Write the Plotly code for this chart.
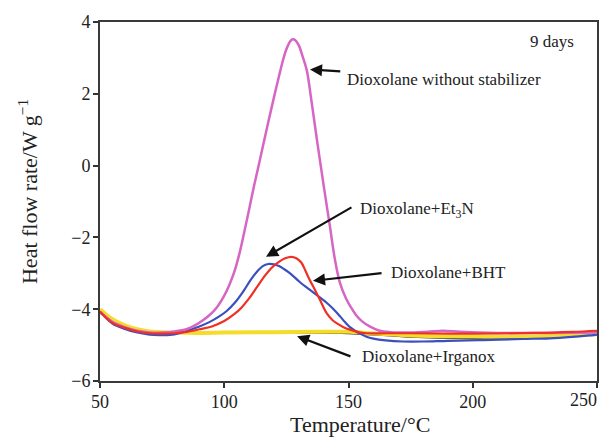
import plotly.graph_objects as go

# Dioxolane without stabilizer (magenta)
x_plain = [50, 55, 60, 65, 70, 75, 80, 85, 88, 91, 94, 97, 100, 102, 104, 106, 108, 110, 112, 114, 116, 118, 120, 122, 123.5, 125, 126.5, 127.5, 128.5, 130, 131.5, 133.2, 135, 137.5, 140, 142.5, 144.5, 146.5, 149, 151, 153, 155.5, 158.5, 162.5, 167, 175, 182, 188, 195, 210, 230, 250]
y_plain = [-4.07, -4.35, -4.5, -4.6, -4.65, -4.65, -4.62, -4.55, -4.46, -4.33, -4.17, -3.95, -3.62, -3.33, -2.97, -2.48, -1.87, -1.22, -0.56, 0.05, 0.68, 1.3, 1.9, 2.48, 2.9, 3.24, 3.46, 3.52, 3.5, 3.35, 3.05, 2.66, 1.85, 0.62, -0.55, -1.68, -2.6, -3.25, -3.7, -3.95, -4.16, -4.34, -4.48, -4.6, -4.64, -4.65, -4.63, -4.6, -4.63, -4.66, -4.66, -4.65]

# Dioxolane + Et3N (blue)
x_et3n = [50, 55, 60, 65, 70, 75, 80, 85, 90, 94, 98, 101, 104.5, 107.7, 110.5, 113, 115.5, 117.7, 120, 122, 124, 126.5, 130.5, 135.8, 141.2, 144, 146.6, 148.6, 150.6, 152.6, 154.6, 157, 160, 165, 172, 180, 190, 204, 220, 231, 240, 248.4, 250]
y_et3n = [-4.07, -4.4, -4.55, -4.65, -4.71, -4.72, -4.7, -4.6, -4.48, -4.36, -4.2, -4.05, -3.8, -3.5, -3.2, -2.97, -2.8, -2.74, -2.75, -2.8, -2.88, -3.0, -3.25, -3.53, -3.82, -4.0, -4.2, -4.36, -4.5, -4.6, -4.68, -4.76, -4.82, -4.87, -4.9, -4.9, -4.88, -4.86, -4.83, -4.81, -4.77, -4.72, -4.71]

# Dioxolane + BHT (red)
x_bht = [50, 55, 60, 65, 70, 75, 80, 85, 90, 95, 100, 104, 107, 110, 113, 116, 119, 122, 124.5, 127, 129, 131, 132.5, 134, 135.8, 138.5, 141.2, 143.5, 145.2, 148, 150.6, 154, 157.3, 165, 175, 200, 225, 240, 250]
y_bht = [-4.07, -4.38, -4.52, -4.62, -4.67, -4.68, -4.67, -4.63, -4.56, -4.48, -4.33, -4.14, -3.95, -3.7, -3.4, -3.1, -2.85, -2.68, -2.58, -2.54, -2.58, -2.7, -2.9, -3.13, -3.37, -3.74, -4.11, -4.3, -4.39, -4.5, -4.57, -4.64, -4.67, -4.67, -4.67, -4.68, -4.66, -4.63, -4.6]

# Dioxolane + Irganox (yellow)
x_irg = [50, 55, 60, 65, 70, 80, 90, 100, 120, 140, 150, 160, 175, 200, 225, 240, 250]
y_irg = [-4.0, -4.28, -4.45, -4.56, -4.62, -4.65, -4.66, -4.65, -4.64, -4.63, -4.63, -4.68, -4.73, -4.76, -4.76, -4.73, -4.7]

# Unlabelled baseline (black)
x_base = [50, 55, 59.4, 65, 72.8, 80, 86.2, 95, 120, 150, 175, 200, 225, 240, 250]
y_base = [-4.08, -4.35, -4.49, -4.6, -4.67, -4.66, -4.64, -4.65, -4.65, -4.66, -4.76, -4.8, -4.79, -4.75, -4.7]

x_ticks = [50, 100, 150, 200, 250]
y_ticks = [-6, -4, -2, 0, 2, 4]

FONT = "Liberation Serif"
TXT = "#222222"

fig = go.Figure()
fig.add_trace(go.Scatter(x=x_base, y=y_base, mode="lines", line=dict(color="#111111", width=2.5, shape="spline")))
fig.add_trace(go.Scatter(x=x_irg, y=y_irg, mode="lines", line=dict(color="#f4dc2c", width=4, shape="spline")))
fig.add_trace(go.Scatter(x=x_et3n, y=y_et3n, mode="lines", line=dict(color="#3b4fbf", width=2.2, shape="spline")))
fig.add_trace(go.Scatter(x=x_plain, y=y_plain, mode="lines", line=dict(color="#d765c4", width=2.5, shape="spline")))
fig.add_trace(go.Scatter(x=x_bht, y=y_bht, mode="lines", line=dict(color="#ee3124", width=2.2, shape="spline")))

arrows = [
    # (head_x, head_y, tail_x, tail_y)
    (134.5, 2.68, 147.3, 2.62),
    (116.8, -2.54, 151.8, -1.14),
    (135.7, -3.21, 163.9, -2.99),
    (129.3, -4.75, 151.4, -5.33),
]
for hx, hy, tx, ty in arrows:
    fig.add_annotation(x=hx, y=hy, ax=tx, ay=ty, xref="x", yref="y", axref="x", ayref="y",
                       text="", showarrow=True, arrowhead=2, arrowsize=1.1, arrowwidth=2.2,
                       arrowcolor="#111111")

labels = [
    (148.6, 2.41, "Dioxolane without stabilizer"),
    (153.8, -1.24, "Dioxolane+Et<sub>3</sub>N"),
    (166.3, -2.99, "Dioxolane+BHT"),
    (154.6, -5.33, "Dioxolane+Irganox"),
]
for lx, ly, t in labels:
    fig.add_annotation(x=lx, y=ly, xref="x", yref="y", text=t, showarrow=False,
                       xanchor="left", yanchor="middle",
                       font=dict(family=FONT, size=17, color=TXT))

fig.add_annotation(x=231.7, y=3.47, xref="x", yref="y", text="9 days", showarrow=False,
                   xanchor="center", yanchor="middle", font=dict(family=FONT, size=17, color=TXT))

# last x tick label, pulled inside the page as in the original
fig.add_annotation(x=x_ticks[-1], y=-0.053, xref="x", yref="paper", text=str(x_ticks[-1]),
                   showarrow=False, xanchor="right", yanchor="middle", xshift=2,
                   font=dict(family=FONT, size=18, color=TXT))

# axis titles
fig.add_annotation(x=0.523, y=-0.12, xref="paper", yref="paper", text="Temperature/°C",
                   showarrow=False, xanchor="center", yanchor="middle",
                   font=dict(family=FONT, size=22, color=TXT))
fig.add_annotation(x=-0.145, y=0.529, xref="paper", yref="paper", text="Heat flow rate/W g<sup>−1</sup>",
                   showarrow=False, xanchor="center", yanchor="middle", textangle=-90,
                   font=dict(family=FONT, size=22, color=TXT))

fig.update_layout(
    width=600, height=437,
    margin=dict(l=100, r=3, t=22, b=56, autoexpand=False),
    paper_bgcolor="white", plot_bgcolor="white",
    showlegend=False,
    font=dict(family=FONT, color=TXT),
)
fig.update_xaxes(range=[50, 250], tickvals=x_ticks,
                 ticktext=[str(v) for v in x_ticks[:-1]] + [""],
                 ticks="outside", ticklen=5, tickwidth=1.5,
                 tickcolor="#333333", showline=True, linecolor="#3a3a3a", linewidth=2, mirror=True,
                 showgrid=False, zeroline=False, ticklabelstandoff=-2,
                 automargin=False, tickfont=dict(family=FONT, size=18, color=TXT))
fig.update_yaxes(range=[-6, 4], tickvals=y_ticks, ticks="outside", ticklen=5, tickwidth=1.5,
                 tickcolor="#333333", showline=True, linecolor="#3a3a3a", linewidth=2, mirror=True,
                 showgrid=False, zeroline=False, ticklabelstandoff=-1, automargin=False,
                 tickfont=dict(family=FONT, size=18, color=TXT))

fig.write_html("out.html")
